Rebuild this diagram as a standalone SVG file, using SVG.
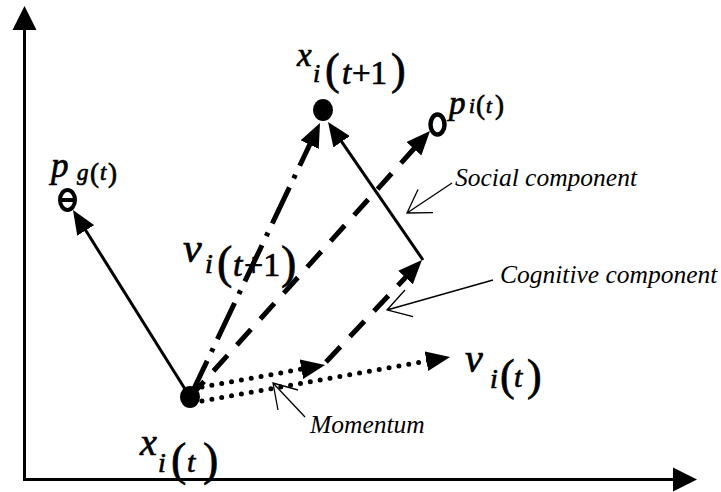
<svg xmlns="http://www.w3.org/2000/svg" width="721" height="492" viewBox="0 0 721 492">
<style>
.t{font-family:"Liberation Serif","Times New Roman",serif;fill:#000;stroke:#000;stroke-width:0.7}
.i{font-style:italic}
.lbl{font-family:"Liberation Serif","Times New Roman",serif;font-style:italic;font-size:25.5px;fill:#000}
.solid{stroke:#000;stroke-width:3;fill:none}
.dash{stroke:#000;stroke-width:5;fill:none;stroke-dasharray:21 14}
.dashdot{stroke:#000;stroke-width:5;fill:none;stroke-dasharray:40 10 4 10}
.dot{stroke:#000;stroke-width:5;fill:none;stroke-dasharray:0 10;stroke-linecap:round}
.ptr{stroke:#000;stroke-width:1.3;fill:none}
</style>
<defs>
<marker id="ah" viewBox="0 0 24 20" refX="14" refY="10" markerWidth="24" markerHeight="20" markerUnits="userSpaceOnUse" orient="auto">
<path d="M0,0 L24,10 L0,20 z" fill="#000"/>
</marker>
</defs>
<rect width="721" height="492" fill="#fff"/>
<g id="axes">
<line x1="24.5" y1="480" x2="24.5" y2="28" stroke="#000" stroke-width="3"/>
<polygon points="24.5,6 12.5,30 36.5,30" fill="#000"/>
<line x1="23" y1="479.5" x2="675" y2="479.5" stroke="#000" stroke-width="3"/>
<polygon points="697,479.5 673,467.5 673,491.5" fill="#000"/>
</g>
<g id="connectors">
<line class="solid" x1="190" y1="397" x2="78.3" y2="218.5" marker-end="url(#ah)"/>
<line class="dashdot" x1="190" y1="397" x2="315.7" y2="132" marker-end="url(#ah)"/>
<line class="dash" x1="190" y1="397" x2="423.3" y2="138.4" marker-end="url(#ah)"/>
<line class="solid" x1="423" y1="260" x2="333.7" y2="130.2" marker-end="url(#ah)"/>
<line class="dash" x1="326" y1="362" x2="415.1" y2="267.3" marker-end="url(#ah)"/>
<line class="dot" x1="202" y1="387" x2="315.2" y2="366.7" marker-end="url(#ah)"/>
<line class="dot" x1="202" y1="401" x2="440.2" y2="358.7" marker-end="url(#ah)"/>
<path class="ptr" d="M452,183 L407,213 M418,189.5 L407,213 L433,212.7"/>
<path class="ptr" d="M493,280 L387,310 M405,290 L387,310 L413,316.7"/>
<path class="ptr" d="M305,417 L273,383 M278,410 L273,383 L298,390"/>
</g>
<g id="x_i_t">
<ellipse cx="190" cy="397" rx="10" ry="11" fill="#000"/>
<text class="t"><tspan class="i" x="140" y="455" font-size="38">x</tspan><tspan class="i" x="158" y="472" font-size="28">i</tspan><tspan x="171" y="475" font-size="46">(</tspan><tspan class="i" x="187" y="472" font-size="30">t</tspan><tspan x="203" y="475" font-size="46">)</tspan></text>
</g>
<g id="x_i_t1">
<ellipse cx="323" cy="110" rx="10" ry="11" fill="#000"/>
<text class="t"><tspan class="i" x="297" y="66" font-size="33">x</tspan><tspan class="i" x="313" y="82" font-size="26">i</tspan><tspan x="325" y="84" font-size="44">(</tspan><tspan class="i" x="342" y="84" font-size="33">t</tspan><tspan x="352" y="84" font-size="33">+1</tspan><tspan x="391" y="84" font-size="44">)</tspan></text>
</g>
<g id="p_i_t">
<ellipse cx="437.5" cy="124.5" rx="7" ry="10" fill="none" stroke="#000" stroke-width="4.5"/>
<text class="t"><tspan class="i" x="449" y="114" font-size="33">p</tspan><tspan class="i" x="469" y="113" font-size="21">i</tspan><tspan x="476" y="114" font-size="27">(</tspan><tspan class="i" x="486" y="113" font-size="21">t</tspan><tspan x="495" y="114" font-size="27">)</tspan></text>
</g>
<g id="p_g_t">
<ellipse cx="67.5" cy="200" rx="7.5" ry="10" fill="none" stroke="#000" stroke-width="4"/>
<line x1="59" y1="200" x2="76" y2="200" stroke="#000" stroke-width="4"/>
<text class="t"><tspan class="i" x="51" y="177" font-size="35">p</tspan><tspan class="i" x="77" y="180" font-size="23">g</tspan><tspan x="90" y="182" font-size="27">(</tspan><tspan class="i" x="100" y="180" font-size="23">t</tspan><tspan x="108" y="182" font-size="27">)</tspan></text>
</g>
<g id="v_i_t1">
<text class="t"><tspan class="i" x="183" y="262" font-size="42">v</tspan><tspan class="i" x="205" y="273" font-size="28">i</tspan><tspan x="217" y="278" font-size="46">(</tspan><tspan class="i" x="233" y="276" font-size="34">t</tspan><tspan x="244" y="276" font-size="34">+1</tspan><tspan x="281" y="278" font-size="46">)</tspan></text>
</g>
<g id="v_i_t">
<text class="t"><tspan class="i" x="465" y="372" font-size="40">v</tspan><tspan class="i" x="490" y="388" font-size="28">i</tspan><tspan x="500" y="390" font-size="44">(</tspan><tspan class="i" x="514" y="387" font-size="30">t</tspan><tspan x="527" y="390" font-size="44">)</tspan></text>
</g>
<g id="social_label"><text class="lbl" x="455" y="186">Social component</text></g>
<g id="cognitive_label"><text class="lbl" x="500" y="283">Cognitive component</text></g>
<g id="momentum_label"><text class="lbl" x="310" y="433" font-size="26">Momentum</text></g>
</svg>
